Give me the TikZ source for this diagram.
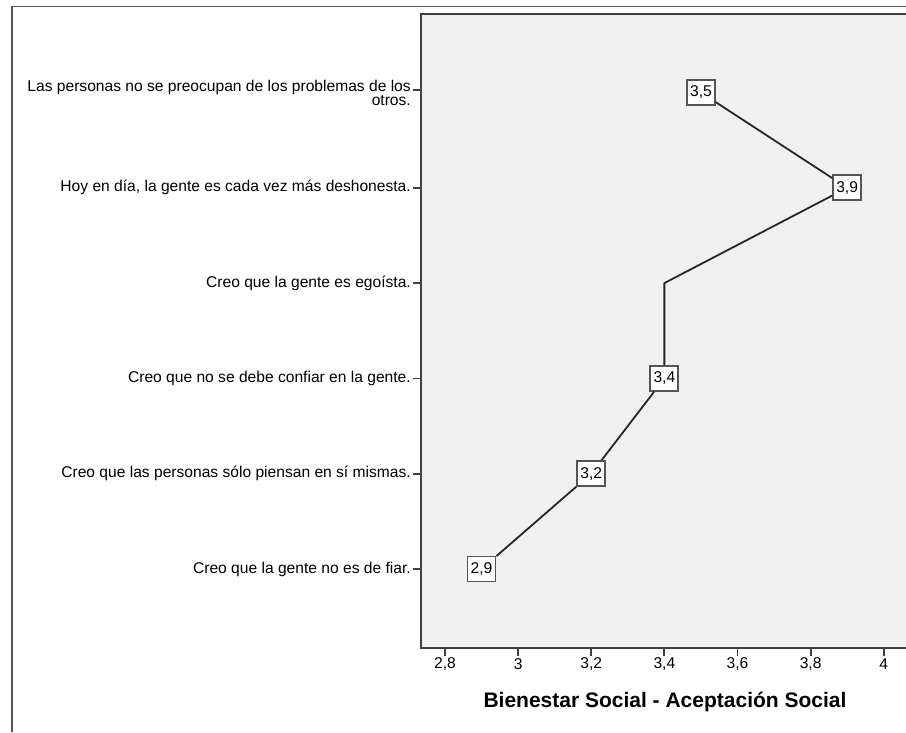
\documentclass[tikz,border=0pt]{standalone}
\usepackage{fontspec}
\setmainfont{Liberation Sans}
\definecolor{framegray}{HTML}{555555}
\definecolor{plotbg}{HTML}{F0F0F0}
\definecolor{axisgray}{HTML}{404040}
\begin{document}
\begin{tikzpicture}[x=1pt, y=-1pt,
    declare function={xv(\v)=445+(\v-2.8)*365.6;},
    txt/.style = {font=\fontsize{15.6}{13}\selectfont, inner sep=0pt},
    valbox/.style = {draw=framegray, line width=1.8pt, fill=white, minimum width=28pt,
                     minimum height=25pt, inner sep=1pt, font=\fontsize{15.6}{17}\selectfont},
    link/.style = {draw=black!85, line width=1.8pt}]
  \useasboundingbox (0,0) rectangle (906,732);
  % outer frame (only top and left visible)
  \draw [framegray, line width=1.8pt] (12,732) -- (12,6.5) -- (906,6.5);
  % plot area
  \fill [plotbg] (421,14) rectangle (906,648);
  \draw [axisgray, line width=1.9pt] (906,14) -- (421,14) -- (421,648) -- (906,648);
  % x axis
  \foreach \v/\t in {2.8/{2,8}, 3/3, 3.2/{3,2}, 3.4/{3,4}, 3.6/{3,6}, 3.8/{3,8}, 4/4} {
    \draw [axisgray, line width=1.8pt] ({xv(\v)},648) -- ({xv(\v)},656);
    \node [txt] (tick\v) at ({xv(\v)},664) {\t};
  }
  \node [font=\fontsize{21}{24}\selectfont\bfseries, inner sep=0pt] (title) at (665,702)
    {Bienestar Social - Aceptación Social};
  % categories
  \foreach \i/\t in {2/{Hoy en día, la gente es cada vez más deshonesta.},
                     3/{Creo que la gente es egoísta.},
                     4/{Creo que no se debe confiar en la gente.},
                     5/{Creo que las personas sólo piensan en sí mismas.},
                     6/{Creo que la gente no es de fiar.}} {
    \draw [axisgray, line width=1.8pt] (413,{92.5+(\i-1)*95.3}) -- (421,{92.5+(\i-1)*95.3});
    \node [txt, anchor=east] (cat\i) at (411,{92.5+(\i-1)*95.3}) {\t};
  }
  \draw [axisgray, line width=1.8pt] (413,90) -- (421,90);
  \node [txt, anchor=east, align=right] (cat1) at (411,93)
    {Las personas no se preocupan de los problemas de los\\otros.};
  % values
  \node [valbox] (p1) at ({xv(3.5)},92.5) {3,5};
  \node [valbox] (p2) at ({xv(3.9)},187.8) {3,9};
  \coordinate (p3) at ({xv(3.4)},283.1);
  \node [valbox] (p4) at ({xv(3.4)},378.4) {3,4};
  \node [valbox] (p5) at ({xv(3.2)},473.7) {3,2};
  \node [valbox] (p6) at ({xv(2.9)},569) {2,9};
  \draw [link] (p1) -- (p2) -- (p3) -- (p4) -- (p5) -- (p6);
\end{tikzpicture}
\end{document}
